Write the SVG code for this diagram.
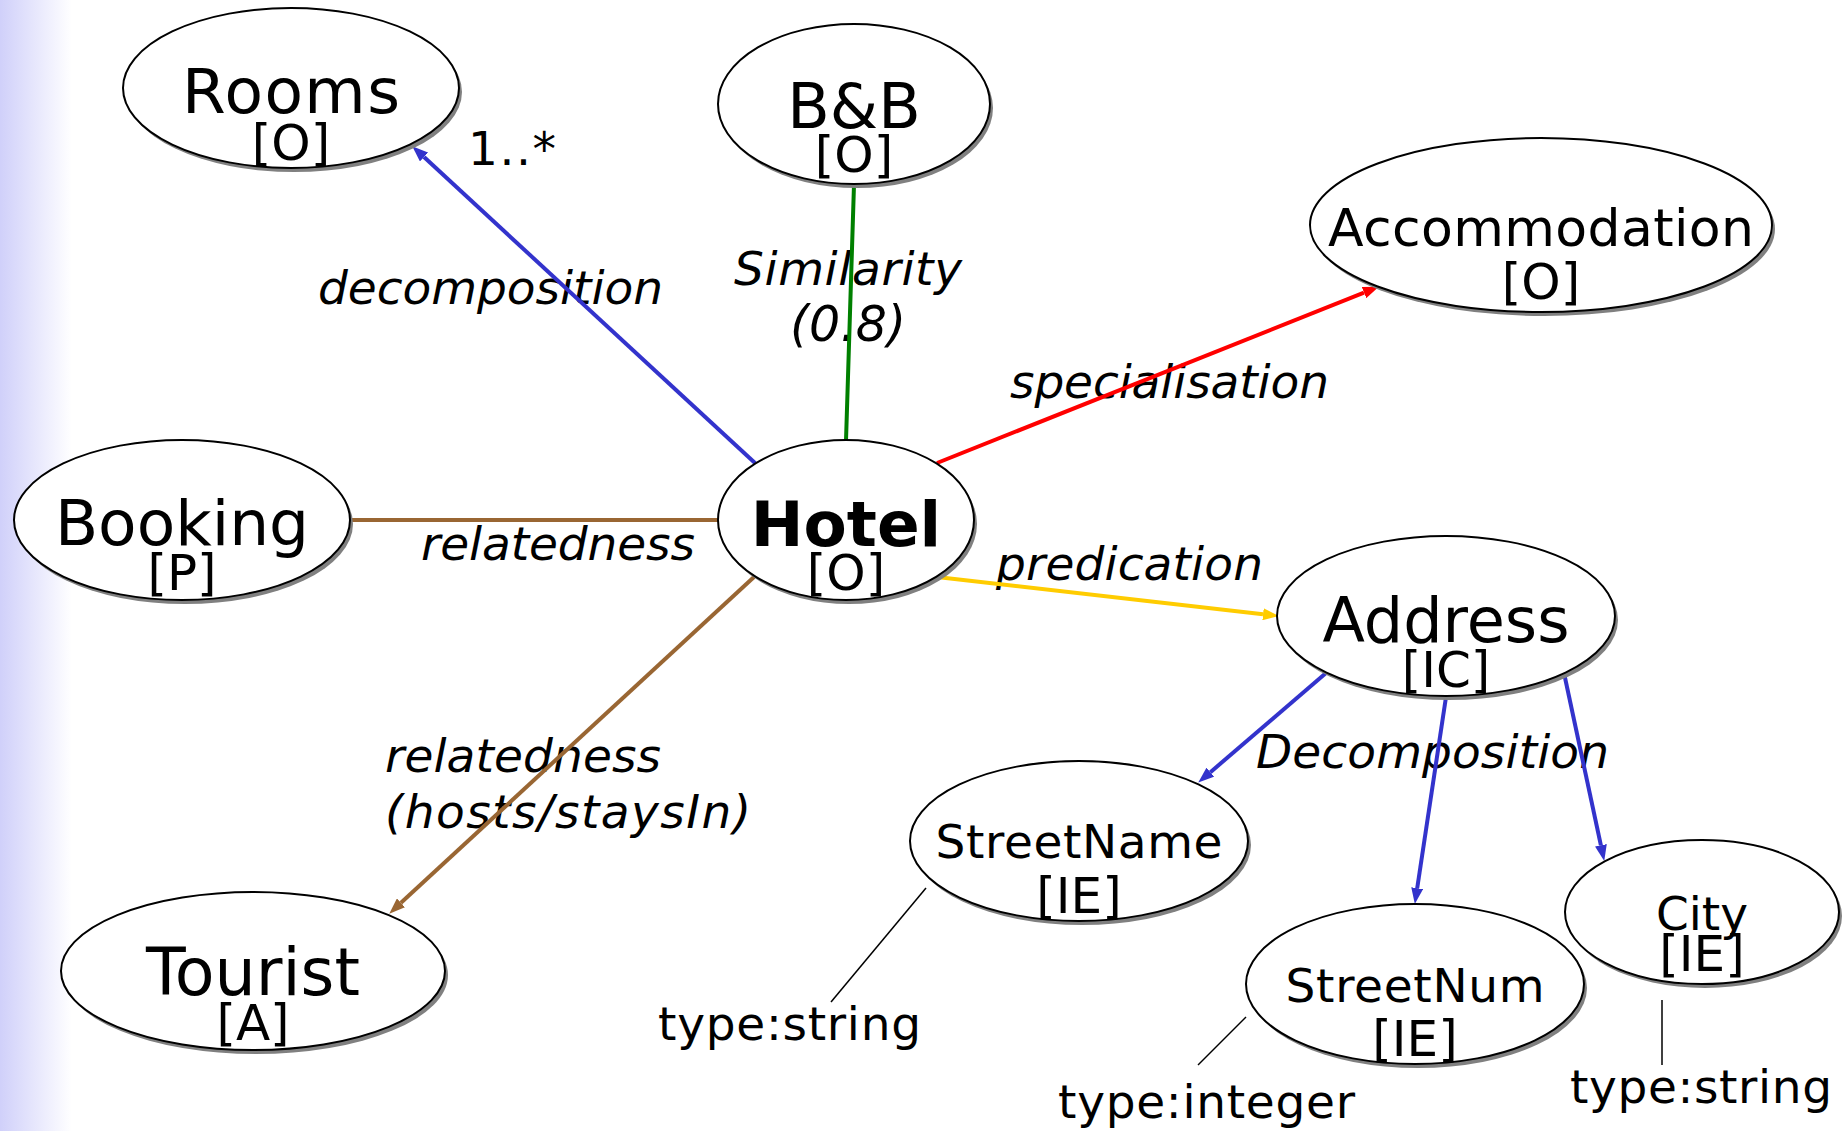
<svg xmlns="http://www.w3.org/2000/svg" width="1847" height="1131" viewBox="0 0 1847 1131">
  <style>
    text { font-family: "DejaVu Sans", Verdana, sans-serif; fill: #000; }
    .name { font-size: 63px; text-anchor: middle; }
    .small { font-size: 47px; text-anchor: middle; }
    .tag { font-size: 50px; text-anchor: middle; }
    .bold { font-weight: bold; }
    .lbl { font-size: 47px; font-style: italic; }
    .plain { font-size: 47px; }
    .node ellipse.body { fill: #fff; stroke: #000; stroke-width: 2; }
    .node ellipse.shadow { fill: #808080; stroke: none; }
    .edge { fill: none; stroke-width: 4; }
    .blue { stroke: #3333cc; }
    .green { stroke: #008000; }
    .red { stroke: #ff0000; }
    .yellow { stroke: #ffcc00; }
    .brown { stroke: #996633; }
    .note { stroke: #000; stroke-width: 1.5; fill: none; }
  </style>
  <defs>
    <linearGradient id="edgeFade" x1="0" y1="0" x2="1" y2="0">
      <stop offset="0" stop-color="#d0d0fa"/>
      <stop offset="1" stop-color="#ffffff"/>
    </linearGradient>
    <marker id="arrBlue" markerUnits="userSpaceOnUse" markerWidth="16" markerHeight="12" refX="0" refY="6" orient="auto">
      <path d="M0,0 L16,6 L0,12 z" fill="#3333cc"/>
    </marker>
    <marker id="arrRed" markerUnits="userSpaceOnUse" markerWidth="16" markerHeight="12" refX="0" refY="6" orient="auto">
      <path d="M0,0 L16,6 L0,12 z" fill="#ff0000"/>
    </marker>
    <marker id="arrYellow" markerUnits="userSpaceOnUse" markerWidth="16" markerHeight="12" refX="0" refY="6" orient="auto">
      <path d="M0,0 L16,6 L0,12 z" fill="#ffcc00"/>
    </marker>
    <marker id="arrBrown" markerUnits="userSpaceOnUse" markerWidth="16" markerHeight="12" refX="0" refY="6" orient="auto">
      <path d="M0,0 L16,6 L0,12 z" fill="#996633"/>
    </marker>
  </defs>

  <!-- page background with a soft lavender band on the left -->
  <rect x="0" y="0" width="1847" height="1131" fill="#fff"/>
  <rect x="0" y="0" width="72" height="1131" fill="url(#edgeFade)"/>

  <!-- relation labels -->
  <g id="edge-labels">
    <text class="plain" x="468" y="165" textLength="88">1..*</text>
    <text class="lbl" x="318" y="304" textLength="345">decomposition</text>
    <text class="lbl" x="848" y="285" text-anchor="middle" textLength="228">Similarity</text>
    <text class="lbl" x="848" y="341" text-anchor="middle" style="font-size:49px">(0.8)</text>
    <text class="lbl" x="1010" y="398" textLength="319">specialisation</text>
    <text class="lbl" x="421" y="560" textLength="274">relatedness</text>
    <text class="lbl" x="996" y="580" textLength="267">predication</text>
    <text class="lbl" x="385" y="772" textLength="276">relatedness</text>
    <text class="lbl" x="385" y="828" textLength="366">(hosts/staysIn)</text>
    <text class="lbl" x="1256" y="768" textLength="353">Decomposition</text>
    <text class="plain" x="658" y="1040" textLength="263">type:string</text>
    <text class="plain" x="1058" y="1118" textLength="297">type:integer</text>
    <text class="plain" x="1570" y="1103" textLength="262">type:string</text>
  </g>

  <!-- relations between concepts -->
  <g id="connectors">
    <line class="edge blue" x1="755" y1="463" x2="424" y2="157" marker-end="url(#arrBlue)"/>
    <line class="edge green" x1="846" y1="441" x2="854" y2="185"/>
    <line class="edge red" x1="937" y1="463" x2="1364" y2="292.6" marker-end="url(#arrRed)"/>
    <line class="edge brown" x1="350" y1="520" x2="718" y2="520"/>
    <line class="edge brown" x1="754" y1="577" x2="401" y2="902.8" marker-end="url(#arrBrown)"/>
    <line class="edge yellow" x1="937" y1="577" x2="1263" y2="614.3" marker-end="url(#arrYellow)"/>
    <line class="edge blue" x1="1326" y1="673" x2="1210.4" y2="772.2" marker-end="url(#arrBlue)"/>
    <line class="edge blue" x1="1446" y1="697" x2="1417.2" y2="888.2" marker-end="url(#arrBlue)"/>
    <line class="edge blue" x1="1564" y1="673" x2="1600.9" y2="845.3" marker-end="url(#arrBlue)"/>
    <line class="note" x1="926" y1="888" x2="831" y2="1002"/>
    <line class="note" x1="1246" y1="1017" x2="1198" y2="1065"/>
    <line class="note" x1="1662" y1="1000" x2="1662" y2="1065"/>
  </g>

  <g id="rooms" class="node">
    <ellipse class="shadow" cx="294" cy="92" rx="168" ry="80"/>
    <ellipse class="body" cx="291" cy="88" rx="168" ry="80"/>
    <text class="name" x="291" y="113" textLength="218">Rooms</text>
    <text class="tag" x="291" y="160">[O]</text>
  </g>

  <g id="bnb" class="node">
    <ellipse class="shadow" cx="857" cy="108" rx="136" ry="80"/>
    <ellipse class="body" cx="854" cy="104" rx="136" ry="80"/>
    <text class="name" x="854" y="128" style="font-size:62px">B&amp;B</text>
    <text class="tag" x="854" y="172">[O]</text>
  </g>

  <g id="accommodation" class="node">
    <ellipse class="shadow" cx="1544" cy="229" rx="231" ry="87"/>
    <ellipse class="body" cx="1541" cy="225" rx="231" ry="87"/>
    <text class="name" x="1541" y="246" style="font-size:52px" textLength="426">Accommodation</text>
    <text class="tag" x="1541" y="299">[O]</text>
  </g>

  <g id="booking" class="node">
    <ellipse class="shadow" cx="185" cy="524" rx="168" ry="80"/>
    <ellipse class="body" cx="182" cy="520" rx="168" ry="80"/>
    <text class="name" x="182" y="545">Booking</text>
    <text class="tag" x="182" y="590">[P]</text>
  </g>

  <g id="hotel" class="node">
    <ellipse class="shadow" cx="849" cy="524" rx="128" ry="80"/>
    <ellipse class="body" cx="846" cy="520" rx="128" ry="80"/>
    <text class="name bold" x="846" y="546">Hotel</text>
    <text class="tag" x="846" y="590">[O]</text>
  </g>

  <g id="address" class="node">
    <ellipse class="shadow" cx="1449" cy="620" rx="169" ry="80"/>
    <ellipse class="body" cx="1446" cy="616" rx="169" ry="80"/>
    <text class="name" x="1446" y="642" style="font-size:62px">Address</text>
    <text class="tag" x="1446" y="687">[IC]</text>
  </g>

  <g id="streetname" class="node">
    <ellipse class="shadow" cx="1082" cy="845" rx="169" ry="80"/>
    <ellipse class="body" cx="1079" cy="841" rx="169" ry="80"/>
    <text class="small" x="1079" y="858" textLength="287">StreetName</text>
    <text class="tag" x="1079" y="913">[IE]</text>
  </g>

  <g id="streetnum" class="node">
    <ellipse class="shadow" cx="1418" cy="988" rx="169" ry="80"/>
    <ellipse class="body" cx="1415" cy="984" rx="169" ry="80"/>
    <text class="small" x="1415" y="1002" textLength="259">StreetNum</text>
    <text class="tag" x="1415" y="1056">[IE]</text>
  </g>

  <g id="city" class="node">
    <ellipse class="shadow" cx="1705" cy="916" rx="137" ry="72"/>
    <ellipse class="body" cx="1702" cy="912" rx="137" ry="72"/>
    <text class="small" x="1702" y="930">City</text>
    <text class="tag" x="1702" y="971">[IE]</text>
  </g>

  <g id="tourist" class="node">
    <ellipse class="shadow" cx="256" cy="975" rx="192" ry="79"/>
    <ellipse class="body" cx="253" cy="971" rx="192" ry="79"/>
    <text class="name" x="253" y="995" style="font-size:65px">Tourist</text>
    <text class="tag" x="253" y="1040">[A]</text>
  </g>
</svg>
